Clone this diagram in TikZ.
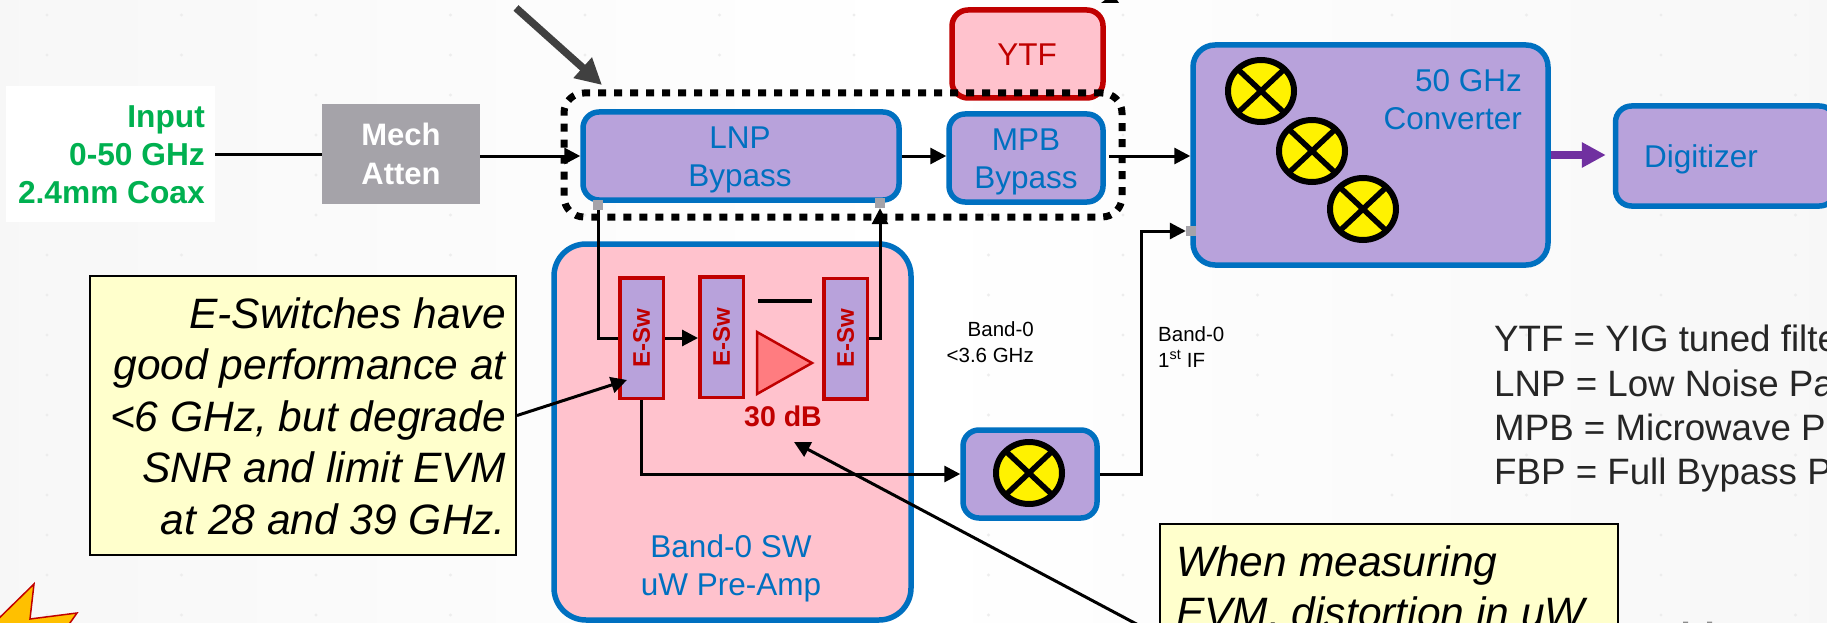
\documentclass[tikz,border=0pt]{standalone}
\usepackage{fontspec}
\usepackage{graphicx}
\setmainfont{Liberation Sans}
\usetikzlibrary{arrows.meta,shapes.geometric,calc}
\definecolor{cblue}{HTML}{0070C0}
\definecolor{cred}{HTML}{C00000}
\definecolor{cpurple}{HTML}{B8A2DB}
\definecolor{cpink}{HTML}{FFC2CD}
\definecolor{cgrey}{HTML}{A5A3A9}
\definecolor{cnote}{HTML}{FFFFCC}
\definecolor{cgreen}{HTML}{00B050}
\definecolor{cviolet}{HTML}{7030A0}
\definecolor{cdark}{HTML}{404040}
\definecolor{camp}{HTML}{FF7C80}
\definecolor{cstar}{HTML}{FFC000}
\definecolor{clegend}{HTML}{262626}
\tikzset{
  x=1pt,y=-1pt,
  bx/.style={draw,rounded corners=#1,inner sep=0pt},
  bluebox/.style={bx=16pt,draw=cblue,fill=cpurple,line width=5.5pt},
  pinkbox/.style={bx=16pt,draw=cred,fill=cpink,line width=5.5pt},
  tab/.style={fill=cgrey,inner sep=0pt,minimum width=10pt,minimum height=10pt},
  eswbox/.style={draw=cred,fill=cpurple,line width=3.5pt,inner sep=0pt,minimum width=43.5pt,minimum height=120.5pt,text=cred,font=\fontsize{24}{26}\selectfont\bfseries},
  bluetxt/.style={inner sep=0pt,text=cblue,align=center,font=\fontsize{31.5}{38}\selectfont},
  notebox/.style={draw=black,fill=cnote,line width=2pt,inner sep=0pt},
  notetxt/.style={inner sep=0pt,font=\fontsize{42.5}{51.5}\selectfont\itshape},
  smalltxt/.style={inner sep=0pt,font=\fontsize{20.5}{25.5}\selectfont},
  legendtxt/.style={inner sep=0pt,anchor=base west,text=clegend,font=\fontsize{36.7}{44}\selectfont},
  arr/.style={draw=black,line width=3pt,-{Triangle[length=16pt,width=16pt]}},
  plain/.style={draw=black,line width=3pt},
  mixer/.style={ellipse,draw=black,fill=yellow,line width=6pt,inner sep=0pt,minimum width=66pt,minimum height=62pt,
    path picture={\draw[black,line width=5.5pt] (path picture bounding box.north west)--(path picture bounding box.south east)
      (path picture bounding box.north east)--(path picture bounding box.south west);}}
}
\begin{document}
\begin{tikzpicture}
\useasboundingbox (0,0) rectangle (1827,623);
\clip (0,0) rectangle (1827,623);
% background
\shade[left color=black!3,right color=black!3,middle color=white] (0,0) rectangle (1827,623);
\foreach \i in {0,...,13}\foreach \j in {0,...,15}
  \fill[black!7] ({47+134.5*\i},{15+40*\j}) circle (1.6pt);
% input
\node[fill=white,inner sep=0pt,minimum width=209pt,minimum height=136pt] (inp) at (110.5,154) {};
\node[inner sep=0pt,anchor=east,align=right,text=cgreen,font=\fontsize{31.7}{38}\selectfont\bfseries] (inpt) at (205,154.5) {Input\\0-50 GHz\\2.4mm Coax};
\node[fill=cgrey,inner sep=0pt,minimum width=158pt,minimum height=99pt,align=center,text=white,font=\fontsize{31}{39}\selectfont\bfseries] (mech) at (401,154) {Mech\\Atten};
% boxes
\node[bluebox,fill=cpink,rounded corners=32pt,minimum width=357pt,minimum height=376pt] (pre) at (732.5,432) {};
\node[pinkbox,minimum width=151pt,minimum height=88pt] (ytf) at (1027.5,54) {};
\node[bluebox,minimum width=316pt,minimum height=88pt] (lnp) at (741,156) {};
\node[bluebox,minimum width=154pt,minimum height=88pt] (mpb) at (1026,158) {};
\node[bluebox,rounded corners=22pt,minimum width=355pt,minimum height=220pt] (conv) at (1370.5,155) {};
\node[bluebox,minimum width=220pt,minimum height=100pt] (dig) at (1725.5,156) {};
\node[bluebox,minimum width=134pt,minimum height=88pt] (sb) at (1030,474) {};
% group outline
\node[draw=black,line width=7pt,rounded corners=20pt,dash pattern=on 8pt off 8pt,inner sep=0pt,minimum width=558pt,minimum height=124pt] (grp) at (843,155) {};
% labels
\node[bluetxt] (lnpt) at (740,160) {LNP\\Bypass};
\node[bluetxt] (mpbt) at (1026,162) {MPB\\Bypass};
\node[bluetxt,text=cred,anchor=base] (ytft) at (1027,66) {YTF};
\node[bluetxt,anchor=east,align=right] (convt) at (1522,100) {50 GHz\\Converter};
\node[bluetxt,anchor=base west] (digt) at (1644,167) {Digitizer};
\node[bluetxt] (pret) at (731,568) {Band-0 SW\\uW Pre-Amp};
\node[smalltxt,anchor=east,align=right] (b0a) at (1034,342) {Band-0\\<3.6 GHz};
\node[smalltxt,anchor=west,align=left] (b0b) at (1158,347) {Band-0\\1\textsuperscript{st} IF};
% switches and amp
\node[eswbox] (esw1) at (641.5,338) {\rotatebox{90}{E-Sw}};
\node[eswbox] (esw2) at (721.5,337) {\rotatebox{90}{E-Sw}};
\node[eswbox] (esw3) at (845.5,338.5) {\rotatebox{90}{E-Sw}};
\coordinate (barl) at (758,301); \coordinate (barr) at (812,301);
\draw[black,line width=4.5pt] (barl) -- (barr);
\filldraw[fill=camp,draw=cred,line width=2.5pt,line join=miter] (757,332) -- (757,394) -- (812,363) -- cycle;
\node[inner sep=0pt,anchor=base,text=cred,font=\fontsize{28.5}{32}\selectfont\bfseries] (gain) at (783,426) {30 dB};
% mixers
\node[mixer] (m1) at (1261,91) {};
\node[mixer] (m2) at (1312,151) {};
\node[mixer] (m3) at (1363,209) {};
\node[mixer] (m4) at (1029,473) {};
% connectors
\draw[plain] (inp.east) -- (mech.west);
\draw[arr] (mech.east |- lnp.west) -- (lnp.west);
\draw[arr] (lnp.east) -- (lnp.east -| mpb.west);
\draw[arr] ([xshift=3pt,yshift=2pt]mpb.east) -- ([yshift=2pt]mpb.east -| conv.west);
\draw[arr] (esw1.east) -- (esw1.east -| esw2.west);
\node[tab] (tl) at (598,205) {};
\node[tab] (tr) at (880,203) {};
\node[tab] (tc) at (1191,231) {};
\draw[plain] (tl.south) |- (esw1.west);
\draw[arr] (esw3.east) -| (tr.south);
\draw[arr] (esw1.south) |- (sb.west);
\coordinate (riser) at (1141.5,300);
\draw[arr] (sb.east) -| (riser) |- (tc.west);
\node[tab] at (tl) {};
\node[tab] at (tr) {};
\node[tab] at (tc) {};
\coordinate (dkfrom) at (516,8);
\coordinate (dkto) at (602,85);
\draw[cdark,line width=7.5pt,-{Triangle[length=26pt,width=26pt]}] (dkfrom) -- (dkto);
\draw[cviolet,line width=8pt,-{Triangle[length=24pt,width=24pt]}] (conv.east) -- ([xshift=-7pt]conv.east -| dig.west);
\fill[black] (1101,3) -- (1105,0) -- (1117,0) -- (1119,3) -- cycle;
% notes
\node[notebox,minimum width=426pt,minimum height=279pt] (n1) at (303,415.5) {};
\node[notetxt,anchor=east,align=right] (n1t) at (506,416) {E-Switches have\\good performance at\\<6 GHz, but degrade\\SNR and limit EVM\\at 28 and 39 GHz.};
\node[notebox,minimum width=458pt,minimum height=224pt] (n2) at (1389,636) {};
\node[notetxt,anchor=north west,align=left] (n2t) at (1176,545) {When measuring\\EVM, distortion in uW};
\coordinate (n1to) at (627,380);
\coordinate (n2to) at (794,442);
\draw[arr] (n1.east) -- (n1to);
\draw[arr] (n2.west) -- (n2to);
% legend
\node[legendtxt] (l1) at (1494,351) {YTF = YIG tuned filte};
\node[legendtxt] (l2) at (1494,396) {LNP = Low Noise Pa};
\node[legendtxt] (l3) at (1494,440) {MPB = Microwave P};
\node[legendtxt] (l4) at (1494,484) {FBP = Full Bypass P};
% starburst corner
\filldraw[fill=cstar,draw=cred,line width=1.5pt,line join=miter] (-12,629) -- (34,584) -- (30,619) -- (77,613) -- (65,630) -- cycle;
\fill[black!45] (1683,621.5) rectangle (1688,623) (1707,621.5) rectangle (1712,623);
\end{tikzpicture}
\end{document}
